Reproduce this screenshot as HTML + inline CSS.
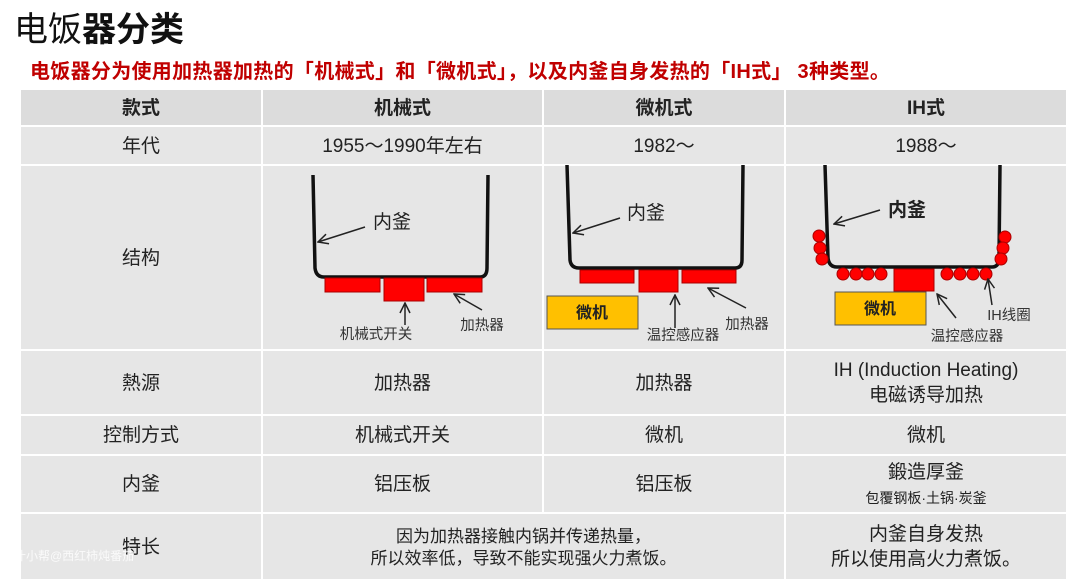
<!DOCTYPE html>
<html><head><meta charset="utf-8"><style>
body{margin:0;width:1080px;height:579px;background:#fff;overflow:hidden;position:relative;font-family:"Liberation Sans","Noto Sans CJK SC",sans-serif;}
.t{position:absolute;left:14px;top:2px;font-size:34px;color:#111;}
.s{position:absolute;left:30px;top:55px;font-size:20px;color:#c00000;font-weight:bold;letter-spacing:0.3px}
.c{position:absolute;background:#e6e6e6;display:flex;align-items:center;justify-content:center;text-align:center;font-size:19px;color:#222;line-height:1.3;padding-top:3px;box-sizing:border-box}
.h{background:#dcdcdc;font-weight:bold;}
svg{position:absolute;left:0;top:0}
</style></head><body>
<div class="t">电饭<b>器分类</b></div>
<div class="s">电饭器分为使用加热器加热的「机械式」和「微机式」，以及内釜自身发热的「IH式」 3种类型。</div>

<div class="c h" style="left:21px;top:90px;width:240px;height:35px">款式</div>
<div class="c h" style="left:263px;top:90px;width:279px;height:35px">机械式</div>
<div class="c h" style="left:544px;top:90px;width:240px;height:35px">微机式</div>
<div class="c h" style="left:786px;top:90px;width:280px;height:35px">IH式</div>

<div class="c" style="left:21px;top:127px;width:240px;height:37px">年代</div>
<div class="c" style="left:263px;top:127px;width:279px;height:37px">1955～1990年左右</div>
<div class="c" style="left:544px;top:127px;width:240px;height:37px">1982～</div>
<div class="c" style="left:786px;top:127px;width:280px;height:37px">1988～</div>

<div class="c" style="left:21px;top:166px;width:240px;height:183px">结构</div>
<div class="c" style="left:263px;top:166px;width:279px;height:183px"></div>
<div class="c" style="left:544px;top:166px;width:240px;height:183px"></div>
<div class="c" style="left:786px;top:166px;width:280px;height:183px"></div>

<div class="c" style="left:21px;top:351px;width:240px;height:63px">熱源</div>
<div class="c" style="left:263px;top:351px;width:279px;height:63px">加热器</div>
<div class="c" style="left:544px;top:351px;width:240px;height:63px">加热器</div>
<div class="c" style="left:786px;top:351px;width:280px;height:63px">IH (Induction Heating)<br>电磁诱导加热</div>

<div class="c" style="left:21px;top:416px;width:240px;height:38px">控制方式</div>
<div class="c" style="left:263px;top:416px;width:279px;height:38px">机械式开关</div>
<div class="c" style="left:544px;top:416px;width:240px;height:38px">微机</div>
<div class="c" style="left:786px;top:416px;width:280px;height:38px">微机</div>

<div class="c" style="left:21px;top:456px;width:240px;height:56px">内釜</div>
<div class="c" style="left:263px;top:456px;width:279px;height:56px">铝压板</div>
<div class="c" style="left:544px;top:456px;width:240px;height:56px">铝压板</div>
<div class="c" style="left:786px;top:456px;width:280px;height:56px"><div>鍛造厚釜<br><span style="font-size:14px">包覆钢板·土锅·炭釜</span></div></div>

<div class="c" style="left:21px;top:514px;width:240px;height:65px">特长</div>
<div class="c" style="left:263px;top:514px;width:521px;height:65px;font-size:17px">因为加热器接触内锅并传递热量，<br>所以效率低，导致不能实现强火力煮饭。</div>
<div class="c" style="left:786px;top:514px;width:280px;height:65px">内釜自身发热<br>所以使用高火力煮饭。</div>

<svg width="1080" height="579" font-family="Liberation Sans,Noto Sans CJK SC,sans-serif">
<defs><marker id="a" markerWidth="12" markerHeight="12" refX="11" refY="6" orient="auto" markerUnits="userSpaceOnUse"><path d="M1,1 L11,6 L1,11" fill="none" stroke="#222" stroke-width="1.5"/></marker></defs>
<g fill="none" stroke="#111" stroke-width="3.5">
<path d="M313,175 L315,268 Q316,277 324,277 L480,277 Q487,277 487,268 L488,175"/>
<path d="M567,165 L570,260 Q571,268 579,268 L735,268 Q742,268 742,260 L743,165"/>
<path d="M825,165 L828,258 Q829,267 837,267 L992,267 Q999,267 999,258 L1000,165"/>
</g>
<g fill="#ff0000" stroke="#a00" stroke-width="1">
<rect x="325" y="278" width="55" height="14"/><rect x="384" y="278" width="40" height="23"/><rect x="427" y="278" width="55" height="14"/>
<rect x="580" y="270" width="54" height="13"/><rect x="639" y="270" width="39" height="22"/><rect x="682" y="270" width="54" height="13"/>
<rect x="894" y="269" width="40" height="22"/>
<circle cx="819" cy="236" r="6"/><circle cx="820" cy="248" r="6"/><circle cx="822" cy="259" r="6"/>
<circle cx="843" cy="274" r="6"/><circle cx="856" cy="274" r="6"/><circle cx="868" cy="274" r="6"/><circle cx="881" cy="274" r="6"/>
<circle cx="947" cy="274" r="6"/><circle cx="960" cy="274" r="6"/><circle cx="973" cy="274" r="6"/><circle cx="986" cy="274" r="6"/>
<circle cx="1005" cy="237" r="6"/><circle cx="1003" cy="248" r="6"/><circle cx="1001" cy="259" r="6"/>
</g>
<g fill="#ffc000" stroke="#555" stroke-width="1">
<rect x="547" y="296" width="91" height="33"/><rect x="835" y="292" width="91" height="33"/>
</g>
<g stroke="#222" stroke-width="1.5" fill="none" marker-end="url(#a)">
<line x1="365" y1="227" x2="318" y2="242"/>
<line x1="405" y1="325" x2="405" y2="303"/>
<line x1="482" y1="310" x2="454" y2="294"/>
<line x1="620" y1="218" x2="573" y2="233"/>
<line x1="675" y1="328" x2="675" y2="295"/>
<line x1="746" y1="308" x2="708" y2="288"/>
<line x1="880" y1="210" x2="834" y2="224"/>
<line x1="956" y1="318" x2="937" y2="294"/>
<line x1="992" y1="305" x2="988" y2="279"/>
</g>
<g fill="#222" font-size="19">
<text x="373" y="228">内釜</text><text x="627" y="219">内釜</text><text x="888" y="216" font-weight="bold">内釜</text>
</g>
<g fill="#333" font-size="14.5" text-anchor="middle">
<text x="376" y="339">机械式开关</text><text x="482" y="330">加热器</text>
<text x="683" y="340">温控感应器</text><text x="747" y="329">加热器</text>
<text x="967" y="341">温控感应器</text><text x="1009" y="320">IH线圈</text>
</g>
<g font-size="16" font-weight="bold" fill="#222" text-anchor="middle">
<text x="592" y="318">微机</text><text x="880" y="314">微机</text>
</g>
<text x="14" y="560" font-size="12" fill="#fff" opacity="0.8">什小帮@西红柿炖番茄</text>
</svg>
</body></html>
